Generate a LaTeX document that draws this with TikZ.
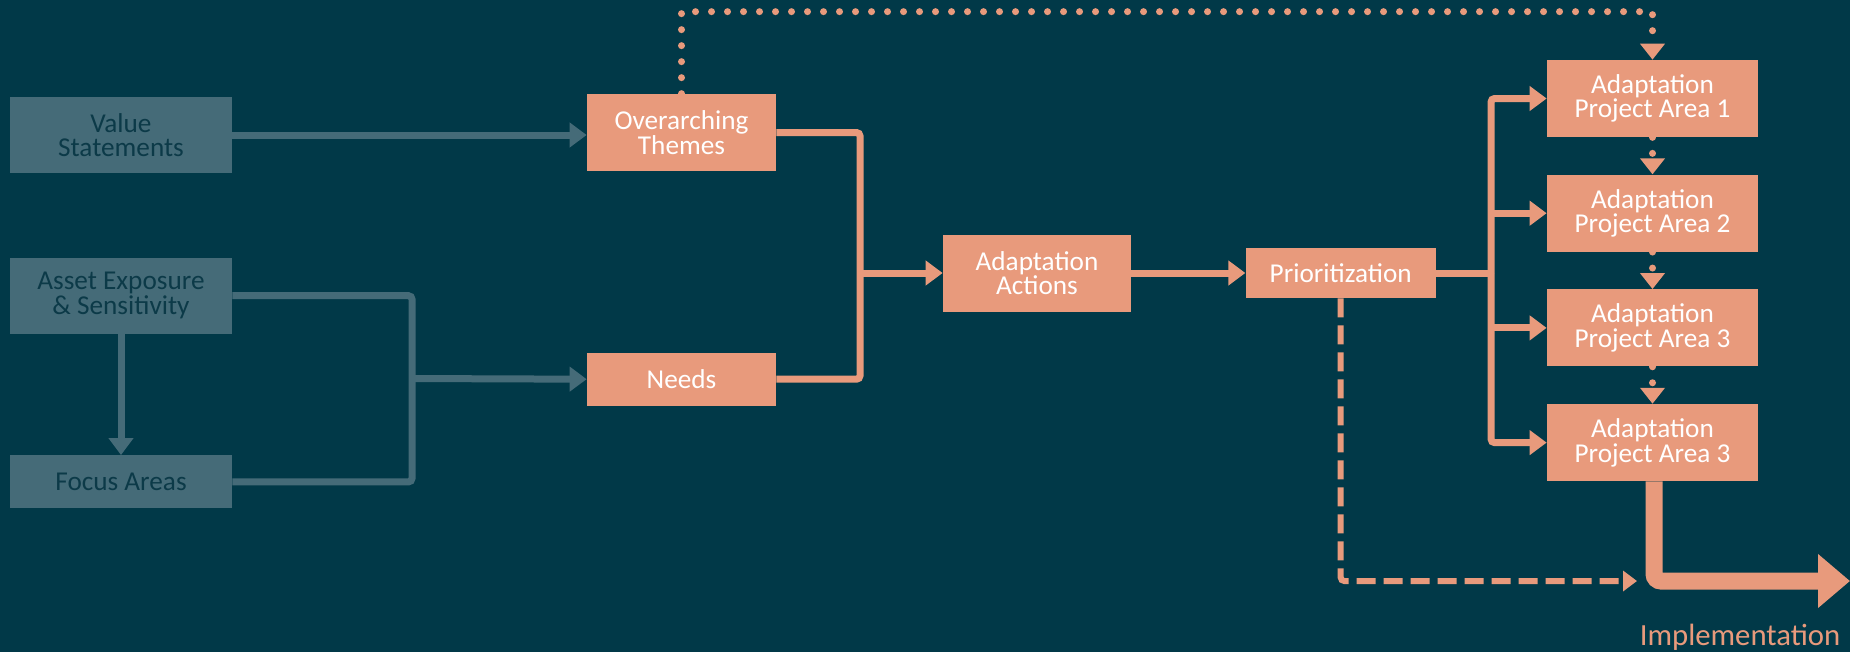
\documentclass[tikz,border=0pt]{standalone}
\usepackage{fontspec}
\setmainfont{Carlito}
\usetikzlibrary{positioning,arrows.meta}
\definecolor{Ocean}{RGB}{1,57,72}
\definecolor{Slate}{RGB}{69,107,120}
\definecolor{Deep}{RGB}{12,58,72}
\definecolor{Salmon}{RGB}{232,154,124}

\begin{document}
\begin{tikzpicture}[node distance=1cm,
  inputbox/.style={fill=Slate,text=Deep,minimum width=4.44cm,minimum height=1.52cm,inner sep=0pt,align=center,font=\fontsize{15.5}{14}\selectfont},
  stagebox/.style={fill=Salmon,text=white,minimum width=3.78cm,minimum height=1.54cm,inner sep=0pt,align=center,font=\fontsize{15.5}{14}\selectfont},
  areabox/.style={stagebox,minimum width=4.22cm},
  inline/.style={line width=0.14cm,Slate,rounded corners=2pt},
  inflow/.style={inline,-{Triangle[length=0.34cm,width=0.48cm]}},
  outline/.style={line width=0.14cm,Salmon,rounded corners=2pt},
  flow/.style={outline,-{Triangle[length=0.34cm,width=0.48cm]}},
  dotflow/.style={line width=0.14cm,Salmon,line cap=round,dash pattern=on 0pt off 0.32cm,-{Triangle[length=0.32cm,width=0.48cm]}},
  dashflow/.style={line width=0.12cm,Salmon,rounded corners=2pt,dash pattern=on 0.38cm off 0.16cm,-{Triangle[length=0.28cm,width=0.4cm]}},
  bigflow/.style={line width=0.34cm,Salmon,rounded corners=4pt,-{Triangle[length=0.64cm,width=1.04cm]}}]
\useasboundingbox (0,0) rectangle (37,-13.04);
\fill[Ocean] (0,0) rectangle (37,-13.04);
% inputs
\node[inputbox] (value) at (2.42,-2.70) {Value\\Statements};
\node[inputbox,below=1.68cm of value] (asset) {Asset Exposure\\\& Sensitivity};
\node[inputbox,minimum height=1.06cm,below=2.42cm of asset] (focus) {Focus Areas};
% stages
\node[stagebox] (themes) at (13.63,-2.65) {Overarching\\Themes};
\node[stagebox,minimum height=1.06cm,below=3.62cm of themes] (needs) {Needs};
\node[stagebox,minimum width=3.76cm] (actions) at (20.74,-5.46) {Adaptation\\Actions};
\node[stagebox,minimum width=3.8cm,minimum height=1.0cm,right=2.28cm of actions] (prio) {Prioritization};
\node[areabox] (area1) at (33.05,-1.97) {Adaptation\\Project Area 1};
\node[areabox,below=0.74cm of area1] (area2) {Adaptation\\Project Area 2};
\node[areabox,below=0.74cm of area2] (area3) {Adaptation\\Project Area 3};
\node[areabox,below=0.74cm of area3] (area4) {Adaptation\\Project Area 3};
\node[text=Salmon,font=\fontsize{17.5}{20}\selectfont] (impl) at (34.8,-12.74) {Implementation};
\coordinate (merge) at (8.24,-7.57);
\coordinate (join) at (17.2,-5.46);
\coordinate[right=1.1cm of prio] (split);
\coordinate (dashend) at (32.74,-11.62);
\coordinate (implend) at (37,-11.62);
% connectors
\draw[inflow] (value.east) -- (value.east -| themes.west);
\draw[inflow] (asset) -- (focus);
\draw[inline] (asset.east) -| (merge) |- (focus.east);
\draw[inflow] (merge) -- (needs.west);
\draw[outline] (themes.east) -| (join) |- (needs.east);
\draw[flow] (join) -- (actions.west);
\draw[flow] (actions) -- (prio);
\draw[outline] (prio.east) -- (split);
\draw[flow] (split) |- (area1.west);
\draw[flow] (split) |- (area4.west);
\draw[flow] (split |- area2.west) -- (area2.west);
\draw[flow] (split |- area3.west) -- (area3.west);
\draw[dotflow] (themes.north) |- ([yshift=0.96cm]area1.north) -- (area1.north);
\foreach \a/\b in {area1/area2,area2/area3,area3/area4}
  \draw[dotflow] (\a.south) -- (\b.north);
\draw[dashflow] (prio.south) |- (dashend);
\draw[bigflow] ([xshift=0.03cm]area4.south) |- (implend);
\end{tikzpicture}
\end{document}
